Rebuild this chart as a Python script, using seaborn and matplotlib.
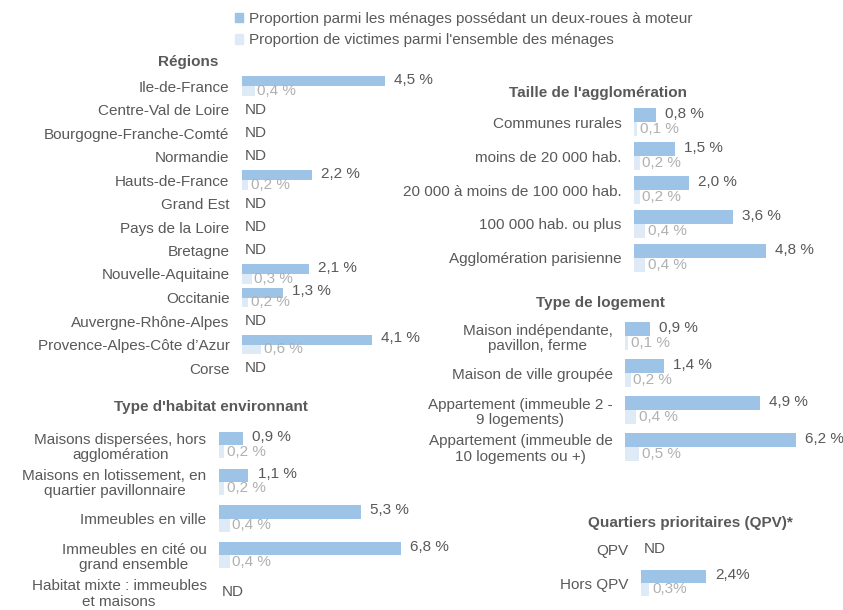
import numpy as np
import pandas as pd
import matplotlib
matplotlib.use("Agg")
import matplotlib.pyplot as plt
from matplotlib.patches import Patch
import seaborn as sns

sns.set_style("white")
plt.rcParams['font.family'] = ['Liberation Sans', 'DejaVu Sans']

nan = np.nan
series = ["Proportion parmi les ménages possédant un deux-roues à moteur",
          "Proportion de victimes parmi l'ensemble des ménages"]

regions = ["Ile-de-France", "Centre-Val de Loire", "Bourgogne-Franche-Comté", "Normandie",
           "Hauts-de-France", "Grand Est", "Pays de la Loire", "Bretagne",
           "Nouvelle-Aquitaine", "Occitanie", "Auvergne-Rhône-Alpes",
           "Provence-Alpes-Côte d’Azur", "Corse"]
regions_moto = [4.5, nan, nan, nan, 2.2, nan, nan, nan, 2.1, 1.3, nan, 4.1, nan]
regions_vict = [0.4, nan, nan, nan, 0.2, nan, nan, nan, 0.3, 0.2, nan, 0.6, nan]

taille = ["Communes rurales", "moins de 20 000 hab.", "20 000 à moins de 100 000 hab.",
          "100 000 hab. ou plus", "Agglomération parisienne"]
taille_moto = [0.8, 1.5, 2.0, 3.6, 4.8]
taille_vict = [0.1, 0.2, 0.2, 0.4, 0.4]

logement = ["Maison indépendante,\npavillon, ferme", "Maison de ville groupée",
            "Appartement (immeuble 2 -\n9 logements)", "Appartement (immeuble de\n10 logements ou +)"]
logement_moto = [0.9, 1.4, 4.9, 6.2]
logement_vict = [0.1, 0.2, 0.4, 0.5]

habitat = ["Maisons dispersées, hors\nagglomération", "Maisons en lotissement, en\nquartier pavillonnaire",
           "Immeubles en ville", "Immeubles en cité ou\ngrand ensemble",
           "Habitat mixte : immeubles\net maisons"]
habitat_moto = [0.9, 1.1, 5.3, 6.8, nan]
habitat_vict = [0.2, 0.2, 0.4, 0.4, nan]

qpv = ["QPV", "Hors QPV"]
qpv_moto = [nan, 2.4]
qpv_vict = [nan, 0.3]

DARK = "#9DC3E6"
LIGHT = "#DEEBF7"
TXT = "#595959"
LTXT = "#B0B0B0"
FS = 11

W, H = 843, 610
fig = plt.figure(figsize=(W / 100, H / 100), dpi=100)


def panel(cats, moto, vict, x0, top, bottom, scale, width, title, tx, ty, sep=" "):
    n = len(cats)
    step = (bottom - top) / (n - 1)
    axw = 200
    ax = fig.add_axes([x0 / W, 1 - (bottom + step / 2) / H, axw / W, (bottom - top + step) / H])
    ax.patch.set_visible(False)
    df = pd.DataFrame({
        "cat": cats * 2,
        "val": list(moto) + list(vict),
        "serie": [series[0]] * n + [series[1]] * n,
    })
    sns.barplot(data=df, y="cat", x="val", hue="serie", order=cats, hue_order=series,
                palette=[DARK, LIGHT], saturation=1, width=width, errorbar=None, linewidth=0,
                orient="h", legend=False, ax=ax)
    ax.set_xlim(0, axw / scale)
    ax.set_ylim(n - 0.5, -0.5)
    ax.set_xticks([])
    ax.set_xlabel("")
    ax.set_ylabel("")
    sns.despine(ax=ax, left=True, bottom=True)
    ax.tick_params(axis="y", length=0, pad=9, labelsize=FS, labelcolor=TXT)
    for lab in ax.get_yticklabels():
        lab.set_multialignment("center")
        lab.set_linespacing(1.1)
    for i, (m, v) in enumerate(zip(moto, vict)):
        if np.isnan(m):
            ax.annotate("ND", (0, i), xytext=(2, 0), textcoords="offset points",
                        va="center", ha="left", fontsize=FS, color=TXT)
            continue
        ax.annotate(f"{m:.1f}{sep}%".replace(".", ","), (m, i - width / 4),
                    xytext=(6.5, 1), textcoords="offset points", va="center", ha="left",
                    fontsize=FS, color=TXT)
        ax.annotate(f"{v:.1f}{sep}%".replace(".", ","), (v, i + width / 4),
                    xytext=(2, 0), textcoords="offset points", va="center", ha="left",
                    fontsize=FS, color=LTXT)
    fig.text(tx / W, 1 - ty / H, title, ha="center", va="center", fontsize=FS,
             fontweight="bold", color=TXT)
    return ax


panel(regions, regions_moto, regions_vict, 242, 86, 368, 31.8, 0.83, "Régions", 188, 62)
panel(taille, taille_moto, taille_vict, 634, 122, 258, 27.5, 0.8, "Taille de l'agglomération", 598, 93)
panel(logement, logement_moto, logement_vict, 625, 336, 447, 27.5, 0.76, "Type de logement", 600, 303)
panel(habitat, habitat_moto, habitat_vict, 219, 445, 592, 26.8, 0.72, "Type d'habitat environnant", 211, 407)
panel(qpv, qpv_moto, qpv_vict, 641, 549, 583, 27.0, 0.76, "Quartiers prioritaires (QPV)*", 690, 523, sep="")

fig.legend(handles=[Patch(color=DARK), Patch(color=LIGHT)], labels=series,
           loc="center left", bbox_to_anchor=(235 / W, 1 - 29.5 / H), frameon=False,
           handlelength=0.55, handleheight=0.55, handletextpad=0.35, labelspacing=0.5,
           fontsize=FS, labelcolor=TXT, borderpad=0, borderaxespad=0)

fig.savefig("out.png", dpi=100)
